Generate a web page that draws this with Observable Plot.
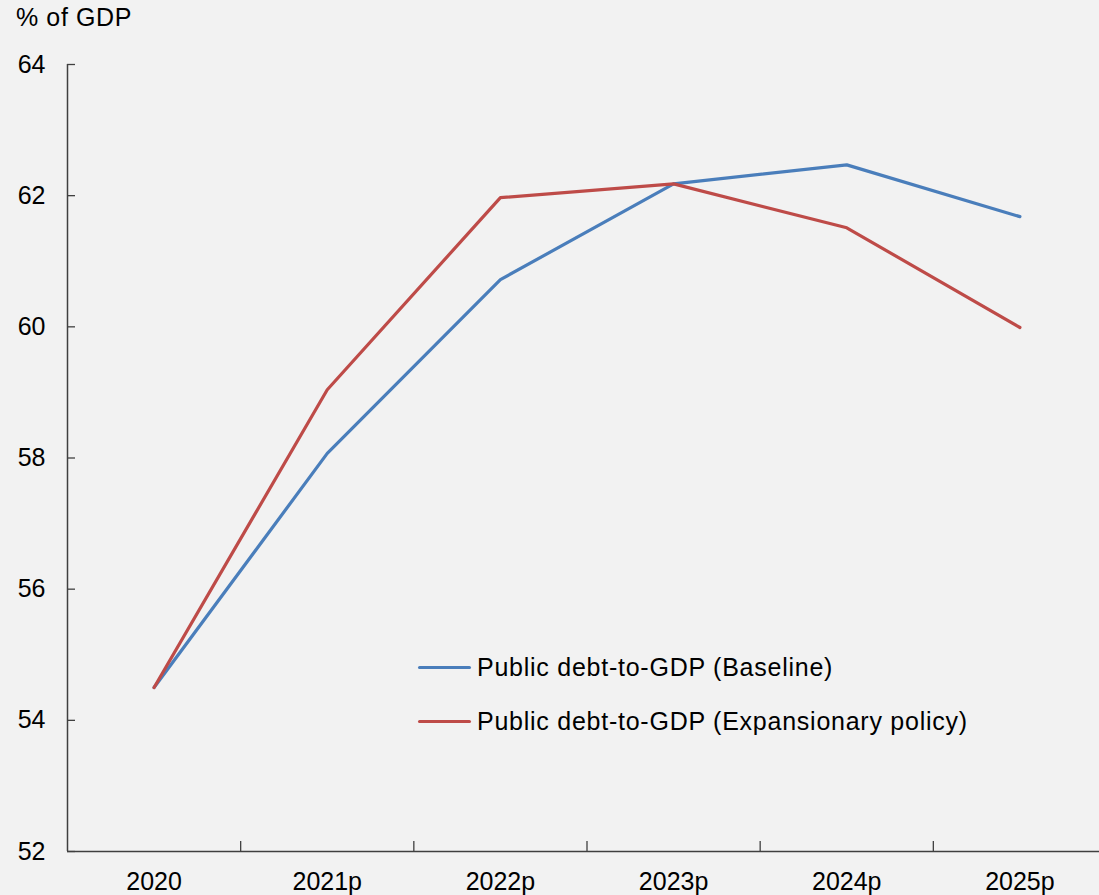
<!DOCTYPE html>
<html>
<head>
<meta charset="utf-8">
<script src="https://cdn.jsdelivr.net/npm/d3@7"></script>
<script src="https://cdn.jsdelivr.net/npm/@observablehq/plot@0.6"></script>
<style>
  html, body { margin: 0; padding: 0; background: #f2f2f2; overflow: hidden; }
  body { width: 1099px; height: 895px; position: relative; font-family: "Liberation Sans", Arial, sans-serif; color: #000; }
  #title { position: absolute; left: 16px; top: 3px; font-size: 25px; letter-spacing: 0.6px; }
  #chart { position: absolute; left: 0; top: 0; width: 1106px; height: 895px; }
  #chart svg { max-width: none !important; }
  .legend { position: absolute; left: 418px; font-size: 25px; letter-spacing: 0.75px; display: flex; align-items: center; }
  .legend .sw { width: 53px; height: 3px; margin-right: 6px; border-radius: 1.5px; }
</style>
</head>
<body>
<div id="chart"></div>
<div id="title">% of GDP</div>
<div id="legend"></div>
<script>
const categories = ["2020", "2021p", "2022p", "2023p", "2024p", "2025p"];
const baseline = [54.5, 58.07, 60.72, 62.18, 62.47, 61.68];
const expansionary = [54.5, 59.04, 61.97, 62.18, 61.51, 59.99];
const seriesNames = ["Public debt-to-GDP (Baseline)", "Public debt-to-GDP (Expansionary policy)"];
const seriesColors = ["#4a7ebb", "#be4b48"];
const yTicks = [52, 54, 56, 58, 60, 62, 64];

const rows = [];
categories.forEach((c, i) => {
  rows.push({series: seriesNames[0], idx: i + 0.5, value: baseline[i]});
  rows.push({series: seriesNames[1], idx: i + 0.5, value: expansionary[i]});
});
const labelPos = categories.map((c, i) => i + 0.5);
const boundaries = categories.slice(1).map((c, i) => i + 1);

const chart = Plot.plot({
  width: 1106,
  height: 895,
  marginLeft: 67,
  marginRight: 0,
  marginTop: 64,
  marginBottom: 44,
  style: {background: "transparent", fontFamily: "'Liberation Sans', Arial, sans-serif", fontSize: "25px", color: "#000", maxWidth: "none"},
  x: {type: "linear", domain: [0, categories.length]},
  y: {domain: [52, 64]},
  color: {domain: seriesNames, range: seriesColors},
  marks: [
    Plot.axisY({ticks: yTicks, tickSize: 0, tickPadding: 22, label: null, fill: "#000", fontSize: 25}),
    Plot.axisY({ticks: yTicks, tickSize: -8, tickFormat: () => "", label: null, stroke: "#404040", strokeWidth: 1.3}),
    Plot.axisX({ticks: labelPos, tickSize: 0, tickPadding: 21, tickFormat: d => categories[Math.round(d - 0.5)], label: null, fill: "#000", fontSize: 25}),
    Plot.axisX({ticks: boundaries, tickSize: -10, tickFormat: () => "", label: null, stroke: "#404040", strokeWidth: 1.3}),
    Plot.ruleX([0], {stroke: "#404040", strokeWidth: 1.5}),
    Plot.ruleY([52], {stroke: "#404040", strokeWidth: 1.5}),
    Plot.line(rows, {x: "idx", y: "value", stroke: "series", z: "series", strokeWidth: 3.2, strokeLinejoin: "round", strokeLinecap: "round"})
  ]
});
document.getElementById("chart").appendChild(chart);

const legend = document.getElementById("legend");
const legendTops = [653, 707];
seriesNames.forEach((name, i) => {
  const item = document.createElement("div");
  item.className = "legend";
  item.style.top = legendTops[i] + "px";
  const sw = document.createElement("div");
  sw.className = "sw";
  sw.style.background = seriesColors[i];
  const t = document.createElement("span");
  t.textContent = name;
  item.appendChild(sw);
  item.appendChild(t);
  legend.appendChild(item);
});
</script>
</body>
</html>
